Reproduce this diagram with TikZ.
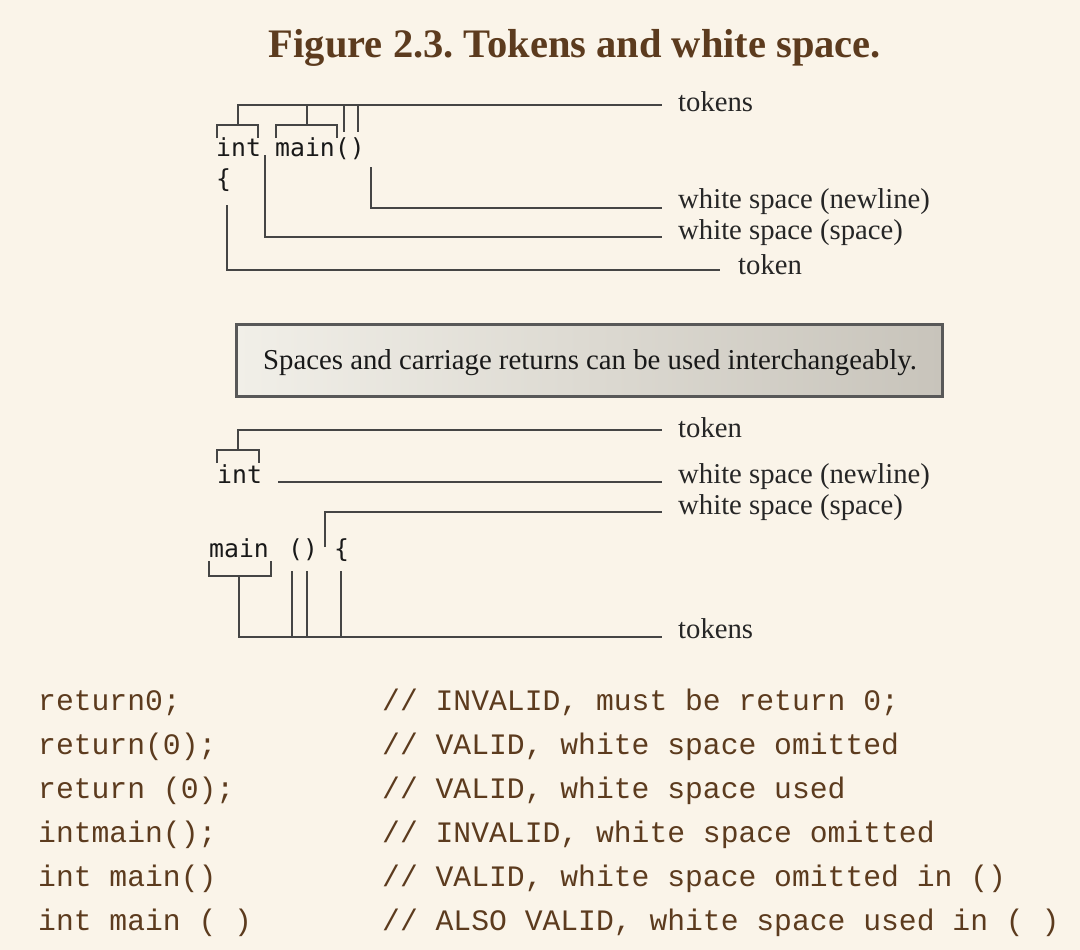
\documentclass[tikz,border=0pt]{standalone}
\usepackage{fontspec}
\setmainfont{Liberation Serif}
\newfontfamily\codefont{Liberation Mono}
\newfontfamily\tokfont{DejaVu Sans Mono}
\definecolor{bg}{HTML}{FAF4E9}
\definecolor{brown}{HTML}{5C3B1E}
\definecolor{ln}{HTML}{454545}
\definecolor{boxl}{HTML}{F1EFE8}
\definecolor{boxr}{HTML}{C8C4BB}
\frenchspacing
\begin{document}
\begin{tikzpicture}[x=1pt,y=-1pt,
  wire/.style={draw=ln,line width=2.2pt,line cap=butt,line join=miter},
  lab/.style={anchor=base west,inner sep=0pt,font=\fontsize{28.7}{30}\selectfont,text=black!85},
  tok/.style={anchor=base west,inner sep=0pt,font=\tokfont\fontsize{24.8}{26}\selectfont,text=black!90},
  code/.style={anchor=base west,inner sep=0pt,font=\codefont\fontsize{29.7}{32}\selectfont,text=brown},
  title/.style={anchor=base,inner sep=0pt,font=\bfseries\fontsize{40.5}{42}\selectfont,text=brown}]
\useasboundingbox (0,0) rectangle (1080,950);
\fill[bg] (0,0) rectangle (1080,950);

% title
\node[title] (ttl) at (575,58) {Figure 2.3. Tokens and white space.};

% ---------- top diagram ----------
\node[tok] (int1) at (216,157) {int};
\node[tok] (main1) at (275,157) {main()};
\node[tok] (br1) at (216,187) {\{};

\node[lab] (lt1) at (678,112) {tokens};
\node[lab] (ln1) at (678,208) {white space (newline)};
\node[lab] (ls1) at (678,239) {white space (space)};
\node[lab] (lk1) at (738,274) {token};

\coordinate (t1end) at (662,105);
\coordinate (n1end) at (662,208);
\coordinate (s1end) at (662,237);
\coordinate (k1end) at (720,270);

% tokens bracket structure
\draw[wire] (238,125) -- (238,105) -- (t1end);
\draw[wire] (217,138) -- (217,125) -- (258,125) -- (258,138);
\draw[wire] (307,125) -- (307,105);
\draw[wire] (276,138) -- (276,125) -- (337,125) -- (337,138);
\draw[wire] (344,105) -- (344,132);
\draw[wire] (358,105) -- (358,132);
% newline
\draw[wire] (371,167) -- (371,208) -- (n1end);
% space
\draw[wire] (265,155) -- (265,237) -- (s1end);
% token
\draw[wire] (227,205) -- (227,270) -- (k1end);

% ---------- box ----------
\shade[left color=boxl,right color=boxr] (236,324) rectangle (942,396);
\draw[draw=ln!90,line width=3pt] (236,324) rectangle (942,396);
\node[anchor=base,inner sep=0pt,font=\fontsize{28.8}{30}\selectfont,text=black!90] (boxtxt) at (590,369) {Spaces and carriage returns can be used interchangeably.};

% ---------- bottom diagram ----------
\node[tok] (int2) at (217,483) {int};
\node[tok] (main2) at (209,557) {main};
\node[tok] (par2) at (288,557) {()};
\node[tok] (br2) at (334,557) {\{};

\node[lab] (lk2) at (678,437) {token};
\node[lab] (ln2) at (678,483) {white space (newline)};
\node[lab] (ls2) at (678,514) {white space (space)};
\node[lab] (lt2) at (678,638) {tokens};

\coordinate (k2end) at (662,430);
\coordinate (n2end) at (662,482);
\coordinate (s2end) at (662,512);
\coordinate (t2end) at (662,637);

\draw[wire] (238,450) -- (238,430) -- (k2end);
\draw[wire] (217,463) -- (217,450) -- (259,450) -- (259,463);
\draw[wire] (278,482) -- (n2end);
\draw[wire] (325,547) -- (325,512) -- (s2end);
\draw[wire] (209,561) -- (209,576) -- (271,576) -- (271,561);
\draw[wire] (239,576) -- (239,637) -- (t2end);
\draw[wire] (292,571) -- (292,637);
\draw[wire] (307,571) -- (307,637);
\draw[wire] (341,571) -- (341,637);

% ---------- code ----------
\node[code] (c1) at (38,710) {return0;};
\node[code] (c2) at (38,754) {return(0);};
\node[code] (c3) at (38,798) {return (0);};
\node[code] (c4) at (38,842) {intmain();};
\node[code] (c5) at (38,886) {int main()};
\node[code] (c6) at (38,930) {int main ( )};
\node[code] (m1) at (382,710) {// INVALID, must be return 0;};
\node[code] (m2) at (382,754) {// VALID, white space omitted};
\node[code] (m3) at (382,798) {// VALID, white space used};
\node[code] (m4) at (382,842) {// INVALID, white space omitted};
\node[code] (m5) at (382,886) {// VALID, white space omitted in ()};
\node[code] (m6) at (382,930) {// ALSO VALID, white space used in ( )};
\end{tikzpicture}
\end{document}
